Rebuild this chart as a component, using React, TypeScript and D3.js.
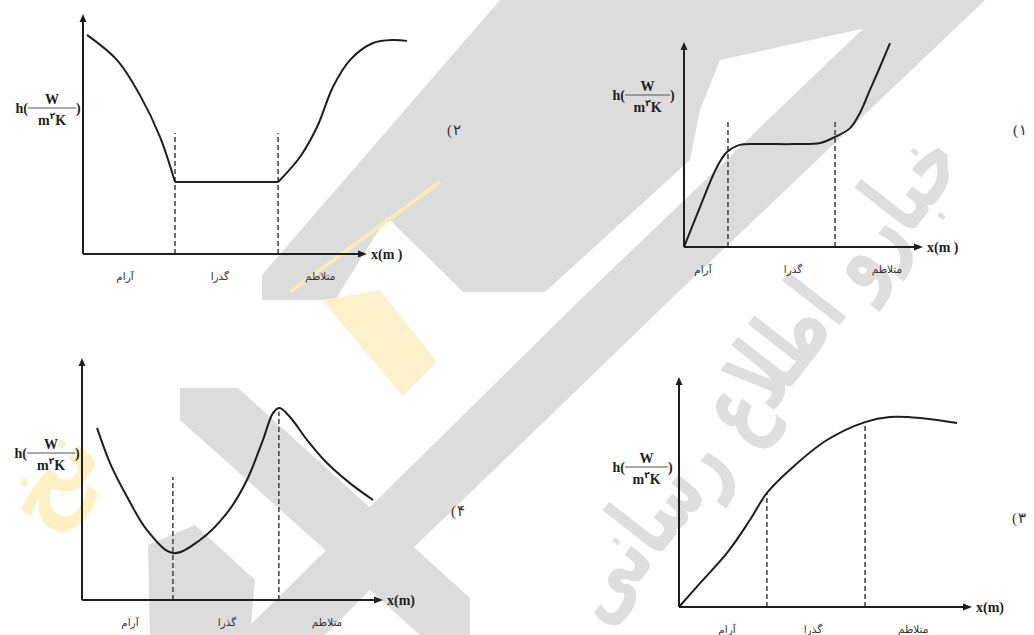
import React, { useRef, useEffect } from 'react';
import * as d3 from 'd3';

const WIDTH = 1034;
const HEIGHT = 635;

// flow regimes shown under every x axis
const regimes = ['آرام', 'گذرا', 'متلاطم'];

// curves in axis units (0..100 = origin..arrow tip)
const curve1: [number, number][] = [
  [0, 0], [6.7, 19.5], [13.8, 39], [18, 46.3], [23.4, 49.8], [31.8, 50.2],
  [45.6, 50.2], [56.9, 50.7], [63.2, 53.7], [69.5, 58], [73.6, 65.4],
  [77.8, 76.6], [82, 87.8], [86.2, 99.5],
];
const curve2Left: [number, number][] = [
  [1.4, 91.3], [12, 80.8], [20, 66.3], [27.1, 48.8], [32.4, 30],
];
const curve2Flat: [number, number][] = [[32.4, 30], [68.7, 30]];
const curve2Right: [number, number][] = [
  [68.7, 30], [76.4, 40.4], [82.4, 52.9], [88, 69.6], [94, 80.8],
  [102.1, 87.9], [109.2, 89.2], [114.1, 88.8],
];
const curve3: [number, number][] = [
  [0, 0], [7.2, 10.4], [16.4, 23.5], [24.2, 37.8], [30, 49.6], [38.9, 60.9],
  [50.5, 72.6], [63.5, 80.4], [72, 82.6], [82.3, 82.2], [94.9, 80],
];
const curve4: [number, number][] = [
  [5, 71.1], [9.3, 56.6], [15, 42.6], [21.6, 28.9], [30.2, 19.4], [39.2, 24.8],
  [48.2, 36], [54.8, 49.6], [60.1, 66.1], [63.5, 77.3], [65.6, 79.3],
  [69.1, 75.6], [74.8, 66.1], [81.4, 56.6], [89, 48.3], [96.7, 41.3],
];

// dashed regime borders: [x, top]
const dashes1: [number, number][] = [[18.4, 62], [63.2, 62]];
const dashes2: [number, number][] = [[32.4, 50.4], [68.7, 50.4]];
const dashes3: [number, number][] = [[30, 49.6], [63.5, 80.4]];
const dashes4: [number, number][] = [[30.2, 50.8], [65.4, 77.7]];

// where the regime names sit along x
const labels1 = [7.9, 45.6, 84.9];
const labels2 = [14.8, 48.2, 83.5];
const labels3 = [16.4, 45.7, 79.9];
const labels4 = [15.9, 48.2, 81.4];

const panels = [
  {
    num: '۱', segs: [curve1], dashes: dashes1, labels: labels1, xl: 'x(m )',
    x0: 684, y0: 247, x1: 923, y1: 42, lab: [1018, 130], barL: 625, barR: 670, barY: 95,
  },
  {
    num: '۲', segs: [curve2Left, curve2Flat, curve2Right], dashes: dashes2, labels: labels2, xl: 'x(m )',
    x0: 83, y0: 254, x1: 367, y1: 14, lab: [452, 130], barL: 28, barR: 76, barY: 108,
  },
  {
    num: '۳', segs: [curve3], dashes: dashes3, labels: labels3, xl: 'x(m)',
    x0: 679, y0: 607, x1: 972, y1: 377, lab: [1017, 518], barL: 625, barR: 668, barY: 467,
  },
  {
    num: '۴', segs: [curve4], dashes: dashes4, labels: labels4, xl: 'x(m)',
    x0: 82, y0: 600, x1: 383, y1: 358, lab: [456, 511], barL: 27, barR: 75, barY: 453,
  },
];

// faint watermark behind the plots
const grayShapes: [number, number][][] = [
  [[500, 0], [900, 0], [880, 25], [720, 60], [700, 110], [690, 160], [545, 292],
    [463, 292], [387, 217], [335, 300], [262, 300], [262, 275]],
  [[893, 0], [985, 0], [670, 300], [380, 580], [325, 635], [240, 635], [380, 497], [580, 300]],
  [[180, 388], [238, 388], [470, 598], [470, 635], [420, 635], [180, 420]],
  [[150, 635], [148, 545], [195, 525], [255, 580], [250, 635]],
];
const yellowShapes: [number, number][][] = [
  [[322, 300], [380, 290], [437, 362], [403, 396]],
];

const FONT = 'Liberation Serif, DejaVu Serif, serif';
const FA = 'DejaVu Sans, sans-serif';

const App: React.FC = () => {
  const svgRef = useRef<SVGSVGElement>(null);

  useEffect(() => {
    if (!svgRef.current) return;
    const svg = d3.select(svgRef.current);
    svg.selectAll('*').remove();

    svg.append('rect').attr('width', WIDTH).attr('height', HEIGHT).attr('fill', '#fff');

    // watermark
    const wm = svg.append('g');
    wm.selectAll('path.g')
      .data(grayShapes)
      .enter()
      .append('path')
      .attr('d', (d) => d3.line()(d) + 'Z')
      .attr('fill', '#dcdcdc');
    wm.selectAll('path.y')
      .data(yellowShapes)
      .enter()
      .append('path')
      .attr('d', (d) => d3.line()(d) + 'Z')
      .attr('fill', '#fdf1cc');
    wm.append('line')
      .attr('x1', 440).attr('y1', 182).attr('x2', 290).attr('y2', 292)
      .attr('stroke', '#f7ebb8').attr('stroke-width', 4);
    wm.append('text')
      .attr('transform', 'translate(785,395) rotate(-52)')
      .attr('text-anchor', 'middle')
      .attr('font-family', FA)
      .attr('font-weight', 'bold')
      .attr('font-size', 96)
      .attr('fill', '#dedede')
      .attr('textLength', 590)
      .attr('lengthAdjust', 'spacingAndGlyphs')
      .text('خبارو اطلاع رسانی');
    wm.append('text')
      .attr('transform', 'translate(75,495) rotate(-55)')
      .attr('text-anchor', 'middle')
      .attr('font-family', FA)
      .attr('font-weight', 'bold')
      .attr('font-size', 90)
      .attr('fill', '#fdf0c2')
      .text('نخ');

    const ink = '#1e1e1e';

    panels.forEach((p) => {
      const x = d3.scaleLinear().domain([0, 100]).range([p.x0, p.x1]);
      const y = d3.scaleLinear().domain([0, 100]).range([p.y0, p.y1]);
      const g = svg.append('g');

      // dashed borders between regimes
      g.selectAll('line.dash')
        .data(p.dashes)
        .enter()
        .append('line')
        .attr('x1', (d) => x(d[0]))
        .attr('x2', (d) => x(d[0]))
        .attr('y1', y(0))
        .attr('y2', (d) => y(d[1]))
        .attr('stroke', '#4a4a4a')
        .attr('stroke-width', 1.6)
        .attr('stroke-dasharray', '5,3');

      // axes
      g.append('line')
        .attr('x1', x(0)).attr('x2', x(0)).attr('y1', y(0)).attr('y2', y(100) + 6)
        .attr('stroke', ink).attr('stroke-width', 2);
      g.append('line')
        .attr('x1', x(0)).attr('x2', x(100) - 6).attr('y1', y(0)).attr('y2', y(0))
        .attr('stroke', ink).attr('stroke-width', 2);
      g.append('path')
        .attr('d', `M${x(0)},${y(100)} l-3.5,8 l7,0 Z`)
        .attr('fill', ink);
      g.append('path')
        .attr('d', `M${x(100)},${y(0)} l-9,-3.5 l0,7 Z`)
        .attr('fill', ink);

      // curve
      const line = d3
        .line<[number, number]>()
        .x((d) => x(d[0]))
        .y((d) => y(d[1]))
        .curve(d3.curveCatmullRom.alpha(0.5));
      p.segs.forEach((s) => {
        g.append('path')
          .attr('d', line(s))
          .attr('fill', 'none')
          .attr('stroke', ink)
          .attr('stroke-width', 2);
      });

      // x label
      g.append('text')
        .attr('x', x(100) + 4)
        .attr('y', y(0) + 5)
        .attr('font-family', FONT)
        .attr('font-weight', 'bold')
        .attr('font-size', 14)
        .attr('fill', ink)
        .attr('xml:space', 'preserve')
        .text(p.xl);

      // regime names
      g.selectAll('text.reg')
        .data(regimes)
        .enter()
        .append('text')
        .attr('x', (d, i) => x(p.labels[i]))
        .attr('y', y(0) + 26)
        .attr('text-anchor', 'middle')
        .attr('font-family', FA)
        .attr('font-size', 10.5)
        .attr('fill', '#333')
        .text((d) => d);

      // y label h(W / m²K)
      const cx = (p.barL + p.barR) / 2;
      g.append('line')
        .attr('x1', p.barL).attr('x2', p.barR).attr('y1', p.barY).attr('y2', p.barY)
        .attr('stroke', '#555').attr('stroke-width', 1);
      g.append('text')
        .attr('x', p.barL)
        .attr('y', p.barY + 5)
        .attr('text-anchor', 'end')
        .attr('font-family', FONT)
        .attr('font-weight', 'bold')
        .attr('font-size', 14)
        .attr('fill', ink)
        .text('h(');
      g.append('text')
        .attr('x', p.barR)
        .attr('y', p.barY + 5)
        .attr('font-family', FONT)
        .attr('font-weight', 'bold')
        .attr('font-size', 14)
        .attr('fill', ink)
        .text(')');
      g.append('text')
        .attr('x', cx)
        .attr('y', p.barY - 4)
        .attr('text-anchor', 'middle')
        .attr('font-family', FONT)
        .attr('font-weight', 'bold')
        .attr('font-size', 14)
        .attr('fill', ink)
        .text('W');
      const den = g.append('text')
        .attr('x', cx)
        .attr('y', p.barY + 17)
        .attr('text-anchor', 'middle')
        .attr('font-family', FONT)
        .attr('font-weight', 'bold')
        .attr('font-size', 14)
        .attr('fill', ink);
      den.append('tspan').text('m');
      den.append('tspan').attr('font-size', 9).attr('dy', -6).attr('font-family', FA).text('۲');
      den.append('tspan').attr('dy', 6).text('K');

      // option number: "(" and the digit drawn apart so bidi does not flip them
      g.append('text')
        .attr('x', p.lab[0])
        .attr('y', p.lab[1] + 5)
        .attr('text-anchor', 'end')
        .attr('font-family', FONT)
        .attr('font-size', 15)
        .attr('fill', '#333')
        .text('(');
      g.append('text')
        .attr('x', p.lab[0] + 1)
        .attr('y', p.lab[1] + 5)
        .attr('font-family', FA)
        .attr('font-size', 15)
        .attr('fill', '#333')
        .text(p.num);
    });
  }, []);

  return (
    <div style={{ position: 'absolute', left: 0, top: 0 }}>
      <svg ref={svgRef} width={WIDTH} height={HEIGHT} />
    </div>
  );
};

export default App;
